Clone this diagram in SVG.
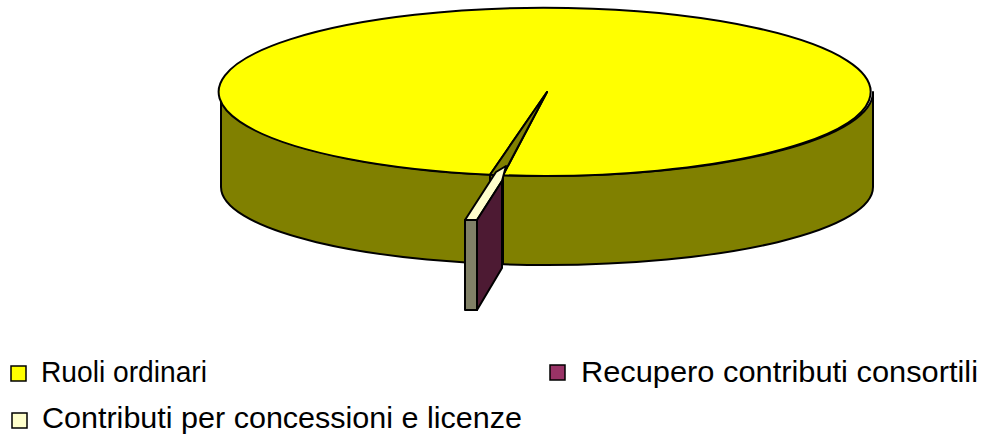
<svg xmlns="http://www.w3.org/2000/svg" width="981" height="436" viewBox="0 0 981 436">
<style>
.o{stroke:#000;stroke-width:2;stroke-linejoin:round}
.t{font-family:"Liberation Sans",Arial,sans-serif;font-size:30px;fill:#000}
.k{stroke:#000;stroke-width:1.5}
</style>
<rect width="981" height="436" fill="#fff"/>
<g id="slice-ruoli">
<path class="o" fill="#808000" d="M221,92 L221,187 A326,78 0 0 0 873,187 L873,92 A326,84 0 0 1 221,92 Z"/>
<path class="o" fill="#ffff00" d="M547,92 L490,174.7 A326,84 0 1 1 503,175.2 Z"/>
<polygon class="o" fill="#808000" points="547,92 490,174.7 503,175.2"/>
<line class="o" x1="490" y1="174.7" x2="490" y2="263.8"/>
<line class="o" x1="503" y1="175.2" x2="503" y2="264.3"/>
</g>
<g id="slice-contributi">
<polygon class="o" fill="#ffffcc" points="465,220 477,220 502,181 506,166 496,172"/>
<rect class="o" fill="#808066" x="465" y="220" width="12" height="90"/>
</g>
<g id="slice-recupero">
<polygon class="o" fill="#4d1a33" points="477,220 502,181 502,268 477,310"/>
</g>
<g id="legend">
<rect class="k" fill="#ffff00" x="11" y="366" width="15" height="15"/>
<text class="t" x="41" y="382" textLength="166" lengthAdjust="spacingAndGlyphs">Ruoli ordinari</text>
<rect class="k" fill="#993366" x="550" y="365" width="15" height="15"/>
<text class="t" x="581" y="382" textLength="397" lengthAdjust="spacingAndGlyphs">Recupero contributi consortili</text>
<rect class="k" fill="#ffffcc" x="12" y="413" width="15" height="15"/>
<text class="t" x="42" y="428" textLength="480" lengthAdjust="spacingAndGlyphs">Contributi per concessioni e licenze</text>
</g>
</svg>
